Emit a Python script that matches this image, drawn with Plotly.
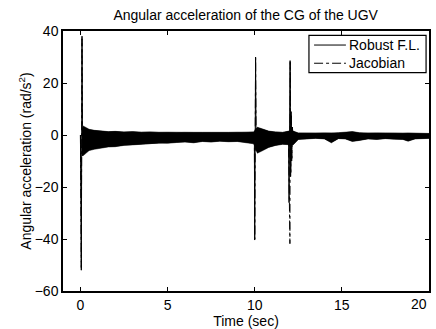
import plotly.graph_objects as go

# ---- data ----
# noise envelope sample times (s)
band_t = [0.15, 0.3, 0.5, 0.8, 1.2, 1.6, 2.0, 2.5, 3.0, 3.5, 4.0, 4.5, 5.0, 5.5,
          6.0, 6.5, 7.0, 7.5, 8.0, 8.5, 9.0, 9.5, 9.95, 10.15, 10.4, 10.8, 11.2,
          11.6, 11.95, 12.2, 12.5, 13.0, 13.5, 14.0, 14.4, 14.8, 15.2, 15.6,
          16.0, 16.5, 17.0, 17.5, 18.0, 18.5, 18.8, 19.2, 19.6, 20.0]
robust_upper = [3.5, 3.0, 2.2, 1.8, 1.5, 1.3, 1.4, 1.2, 1.3, 1.1, 1.2, 1.0, 1.1, 1.0,
                1.1, 1.0, 1.0, 1.1, 1.0, 1.0, 1.1, 1.0, 1.2, 3.0, 2.5, 1.5, 1.2,
                1.0, 1.5, 1.5, 0.8, 0.7, 0.7, 0.8, 0.7, 0.9, 1.0, 1.3,
                0.9, 0.7, 0.8, 0.7, 0.8, 0.7, 0.8, 0.7, 0.6, 0.6]
robust_lower = [-8.0, -7.0, -6.0, -5.5, -5.0, -4.6, -4.5, -4.0, -3.8, -3.5, -3.4, -3.1, -3.2, -2.9,
                -2.7, -3.0, -2.5, -2.7, -2.4, -2.6, -2.5, -3.1, -3.4, -7.0, -6.2, -4.8, -4.0,
                -3.6, -3.8, -3.8, -1.7, -1.4, -1.3, -1.5, -3.0, -1.4, -1.5, -2.5,
                -2.1, -1.5, -1.7, -1.4, -1.6, -1.7, -2.4, -1.5, -1.4, -1.3]
jacobian_upper = [3.2, 2.8, 2.0, 1.7, 1.4, 1.2, 1.3, 1.1, 1.2, 1.0, 1.1, 1.0, 1.0, 0.9,
                  1.0, 0.9, 1.0, 1.0, 0.9, 1.0, 1.0, 0.9, 1.1, 2.8, 2.3, 1.4, 1.1,
                  1.0, 1.4, 1.4, 0.7, 0.7, 0.6, 0.7, 0.7, 0.8, 0.9, 1.2,
                  0.8, 0.7, 0.7, 0.7, 0.7, 0.6, 0.7, 0.7, 0.6, 0.5]
jacobian_lower = [-7.5, -6.5, -5.8, -5.2, -4.8, -4.4, -4.3, -3.8, -3.6, -3.4, -3.2, -3.0, -3.0, -2.8,
                  -2.6, -2.9, -2.4, -2.6, -2.3, -2.5, -2.4, -2.9, -3.2, -6.6, -6.0, -4.6, -3.9,
                  -3.5, -3.7, -3.7, -1.6, -1.3, -1.2, -1.4, -2.8, -1.3, -1.4, -2.3,
                  -2.0, -1.4, -1.6, -1.3, -1.5, -1.6, -2.2, -1.4, -1.3, -1.2]

# spike traces (s, rad/s^2)
robust_t = [0.0, 0.05, 0.09, 0.12, 0.15, 9.98, 10.0, 10.05, 10.08, 10.12,
            11.94, 11.97, 12.03, 12.06, 12.09, 12.12, 12.15, 12.2, 20.0]
robust_v = [0.0, -52.0, 38.0, -8.0, 0.0, 0.0, -40.4, 30.0, -6.0, 0.0,
            0.0, -26.0, 28.6, -16.0, 9.0, -10.0, 3.0, 0.0, 0.0]
jacobian_t = [0.0, 0.05, 0.09, 0.12, 0.15, 9.98, 10.0, 10.05, 10.08, 10.12,
              11.94, 12.02, 12.04, 12.07, 12.10, 12.13, 12.16, 12.2, 20.0]
jacobian_v = [0.0, -51.0, 37.0, -7.0, 0.0, 0.0, -40.0, 29.5, -5.0, 0.0,
              0.0, -41.8, 28.0, -15.0, 8.0, -9.0, 3.0, 0.0, 0.0]

series_names = ["Robust F.L.", "Jacobian"]
x_ticks = [0, 5, 10, 15, 20]
x_ticklabels = ["0", "5", "10", "15", "20"]
y_ticks = [-60, -40, -20, 0, 20, 40]

fig = go.Figure()

# noise bands (filled envelopes)
for up, lo in [(jacobian_upper, jacobian_lower), (robust_upper, robust_lower)]:
    fig.add_trace(go.Scatter(
        x=band_t + band_t[::-1], y=up + lo[::-1],
        fill="toself", fillcolor="black", mode="lines",
        line=dict(color="black", width=0.5), showlegend=False, hoverinfo="skip"))

fig.add_trace(go.Scatter(x=jacobian_t, y=jacobian_v, mode="lines", name=series_names[1],
                         line=dict(color="black", width=1, dash="dashdot"), showlegend=False))
fig.add_trace(go.Scatter(x=robust_t, y=robust_v, mode="lines", name=series_names[0],
                         line=dict(color="black", width=1), showlegend=False))

font = dict(family="Liberation Sans, Arial, sans-serif", size=14, color="black")
axis_common = dict(showline=True, linecolor="black", linewidth=1.5, mirror="ticks",
                   ticks="inside", ticklen=4, tickcolor="black", tickwidth=1, showgrid=False,
                   zeroline=False, tickfont=font, automargin=False)

# legend drawn as a boxed key in the top-right corner of the axes
box = dict(x0=0.672, x1=0.992, y0=0.8396, y1=0.983)
rows_y = [0.946, 0.876]
dashes = ["solid", "dashdot"]
shapes = [dict(type="rect", xref="paper", yref="paper", fillcolor="white",
               line=dict(color="black", width=1.2), **box)]
annotations = []
for name, yy, d in zip(series_names, rows_y, dashes):
    shapes.append(dict(type="line", xref="paper", yref="paper", x0=0.686, x1=0.773,
                       y0=yy, y1=yy, line=dict(color="black", width=1, dash=d)))
    annotations.append(dict(text=name, xref="paper", yref="paper", x=0.776, y=yy,
                            xanchor="left", yanchor="middle", showarrow=False, font=font))

# the last x tick label is kept inside the figure (right-aligned to its tick)
annotations.append(dict(text=x_ticklabels[-1], xref="x", yref="paper", x=x_ticks[-1], y=0,
                        xanchor="right", yanchor="top", yshift=-3, showarrow=False,
                        font=font))

fig.update_layout(
    width=436, height=329,
    margin=dict(l=63, r=7, t=31, b=38),
    paper_bgcolor="white", plot_bgcolor="white",
    font=font,
    title=dict(text="Angular acceleration of the CG of the UGV", x=0.5635, xanchor="center",
               y=0.955, yanchor="middle", font=font),
    xaxis=dict(range=[-1, 20], tickvals=x_ticks[:-1], ticktext=x_ticklabels[:-1],
               title=dict(text="Time (sec)", font=font, standoff=0), **axis_common),
    yaxis=dict(range=[-60, 40], tickvals=y_ticks,
               title=dict(text="Angular acceleration (rad/s<sup>2</sup>)", font=font, standoff=0),
               **axis_common),
    shapes=shapes,
    annotations=annotations,
    showlegend=False,
)

fig.write_html("out.html")
